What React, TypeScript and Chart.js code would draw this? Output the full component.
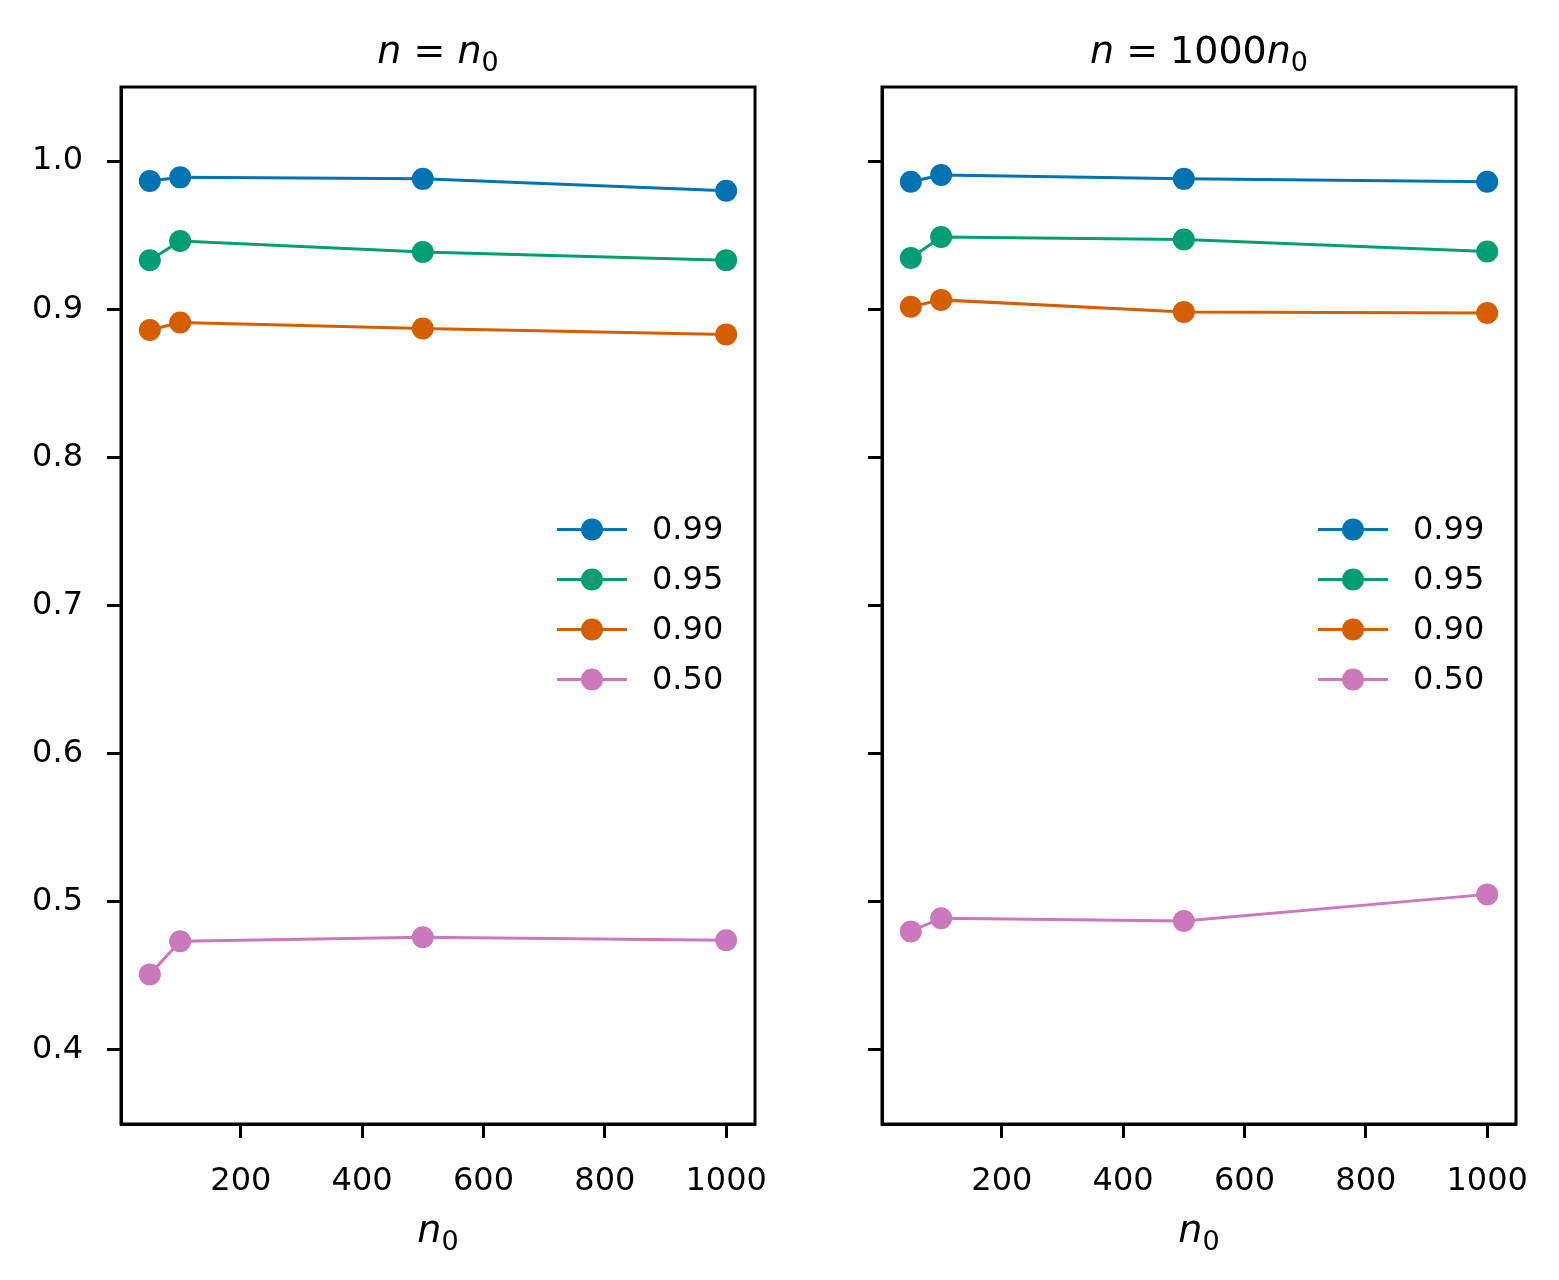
import React, { useEffect, useRef } from 'react';
import { Chart, registerables } from 'chart.js';

Chart.register(...registerables);

// x positions (n0) shared by both panels
const n0Values = [50, 100, 500, 1000];
const levelLabels = ['0.99', '0.95', '0.90', '0.50'];
const colors = ['#0173b2', '#029e73', '#d55e00', '#cc78bc'];

// left panel: n = n0
const leftP99 = [0.9865, 0.989, 0.988, 0.98];
const leftP95 = [0.933, 0.946, 0.9386, 0.933];
const leftP90 = [0.886, 0.891, 0.887, 0.883];
const leftP50 = [0.451, 0.4734, 0.476, 0.474];

// right panel: n = 1000 n0
const rightP99 = [0.986, 0.9906, 0.988, 0.986];
const rightP95 = [0.9346, 0.9488, 0.947, 0.939];
const rightP90 = [0.9016, 0.9063, 0.8982, 0.8975];
const rightP50 = [0.48, 0.4889, 0.487, 0.505];

const xTicks = [200, 400, 600, 800, 1000];
const yTicks = [0.4, 0.5, 0.6, 0.7, 0.8, 0.9, 1.0];

const FONT = 'DejaVu Sans';

type Piece = { text: string; italic?: boolean; sub?: boolean };

function drawMath(ctx: CanvasRenderingContext2D, pieces: Piece[], cx: number, baseY: number, size: number) {
  const fontOf = (p: Piece) =>
    `${p.italic ? 'italic ' : ''}${p.sub ? Math.round(size * 0.7) : size}px "${FONT}"`;
  let total = 0;
  pieces.forEach((p) => {
    ctx.font = fontOf(p);
    total += ctx.measureText(p.text).width;
  });
  let x = cx - total / 2;
  ctx.fillStyle = '#000';
  ctx.textAlign = 'left';
  ctx.textBaseline = 'alphabetic';
  pieces.forEach((p) => {
    ctx.font = fontOf(p);
    ctx.fillText(p.text, x, baseY + (p.sub ? size * 0.2 : 0));
    x += ctx.measureText(p.text).width;
  });
}

function makeDecorPlugin(title: Piece[]) {
  return {
    id: 'decor',
    afterDraw(chart: any) {
      const { ctx, chartArea } = chart;
      const { left, right, top, bottom } = chartArea;
      ctx.save();
      // frame
      ctx.strokeStyle = '#000';
      ctx.lineWidth = 3;
      ctx.strokeRect(left, top, right - left, bottom - top);

      const cx = (left + right) / 2;
      drawMath(ctx, title, cx, top - 24, 38);
      drawMath(ctx, [{ text: 'n', italic: true }, { text: '0', sub: true }], cx, bottom + 118, 38);

      // legend, centre right
      const midY = (top + bottom) / 2;
      chart.data.datasets.forEach((ds: any, i: number) => {
        const y = midY - 76 + i * 50;
        ctx.strokeStyle = ds.borderColor;
        ctx.lineWidth = 3;
        ctx.beginPath();
        ctx.moveTo(right - 198, y);
        ctx.lineTo(right - 128, y);
        ctx.stroke();
        ctx.fillStyle = ds.borderColor;
        ctx.beginPath();
        ctx.arc(right - 163, y, 11, 0, Math.PI * 2);
        ctx.fill();
        ctx.fillStyle = '#000';
        ctx.font = `32px "${FONT}"`;
        ctx.textAlign = 'left';
        ctx.textBaseline = 'middle';
        ctx.fillText(ds.label, right - 103, y + 1);
      });
      ctx.restore();
    },
  };
}

function Panel({ series, title, showYLabels, left, width, padLeft, padRight }: any) {
  const canvasRef = useRef<HTMLCanvasElement>(null);
  const chartRef = useRef<Chart | null>(null);

  useEffect(() => {
    if (!canvasRef.current) return;
    if (chartRef.current) chartRef.current.destroy();
    const tickFont = { family: FONT, size: 32 };

    chartRef.current = new Chart(canvasRef.current, {
      type: 'line',
      data: {
        datasets: series.map((vals: number[], i: number) => ({
          label: levelLabels[i],
          data: n0Values.map((x, j) => ({ x, y: vals[j] })),
          borderColor: colors[i],
          backgroundColor: colors[i],
          borderWidth: 3,
          pointRadius: 11,
          pointBorderWidth: 0,
          pointBackgroundColor: colors[i],
          tension: 0,
        })),
      },
      options: {
        animation: false,
        responsive: false,
        maintainAspectRatio: false,
        devicePixelRatio: 1,
        layout: { padding: { left: 0, right: padRight, top: 87, bottom: 0 } },
        plugins: { legend: { display: false }, tooltip: { enabled: false } },
        scales: {
          x: {
            type: 'linear',
            min: 2.5,
            max: 1047.5,
            afterBuildTicks: (s: any) => {
              s.ticks = xTicks.map((v) => ({ value: v }));
            },
            afterFit: (s: any) => {
              s.height = 156;
              s.paddingLeft = 0;
              s.paddingRight = 0;
            },
            ticks: { font: tickFont, color: '#000', padding: 24, maxRotation: 0, callback: (v: any) => String(v) },
            grid: { drawOnChartArea: false, tickLength: 14, tickWidth: 3, tickColor: '#000' },
            border: { display: true, color: '#000', width: 3 },
          },
          y: {
            type: 'linear',
            min: 0.35,
            max: 1.05,
            afterBuildTicks: (s: any) => {
              s.ticks = yTicks.map((v) => ({ value: v }));
            },
            afterFit: (s: any) => {
              s.width = padLeft;
              s.paddingTop = 0;
              s.paddingBottom = 0;
            },
            ticks: {
              font: tickFont,
              color: '#000',
              padding: 24,
              callback: (v: any) => (showYLabels ? Number(v).toFixed(1) : ''),
            },
            grid: { drawOnChartArea: false, tickLength: 14, tickWidth: 3, tickColor: '#000' },
            border: { display: true, color: '#000', width: 3 },
          },
        },
      },
      plugins: [makeDecorPlugin(title)],
    } as any);

    return () => {
      if (chartRef.current) chartRef.current.destroy();
      chartRef.current = null;
    };
  }, []);

  return (
    <div style={{ position: 'absolute', left, top: 0, width, height: 1280 }}>
      <canvas ref={canvasRef} width={width} height={1280} style={{ width, height: 1280 }} />
    </div>
  );
}

export default function App() {
  return (
    <div style={{ position: 'absolute', left: 0, top: 0, width: 1559, height: 1280, background: '#fff' }}>
      <Panel
        series={[leftP99, leftP95, leftP90, leftP50]}
        title={[{ text: 'n', italic: true }, { text: ' = ' }, { text: 'n', italic: true }, { text: '0', sub: true }]}
        showYLabels
        left={0}
        width={780}
        padLeft={121}
        padRight={25}
      />
      <Panel
        series={[rightP99, rightP95, rightP90, rightP50]}
        title={[
          { text: 'n', italic: true },
          { text: ' = 1000' },
          { text: 'n', italic: true },
          { text: '0', sub: true },
        ]}
        showYLabels={false}
        left={780}
        width={779}
        padLeft={102}
        padRight={43}
      />
    </div>
  );
}
